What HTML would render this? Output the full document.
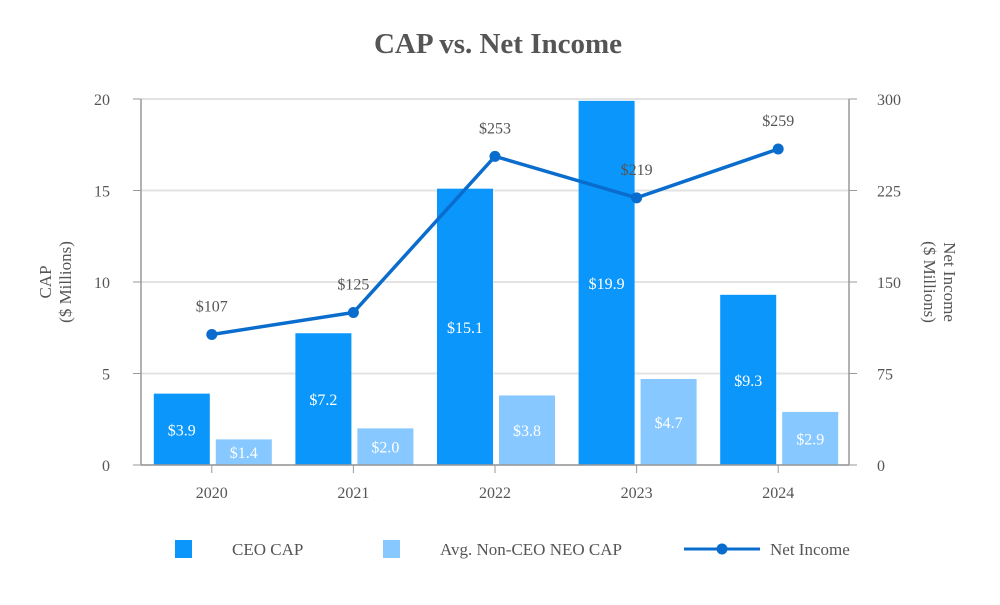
<!DOCTYPE html>
<html><head><meta charset="utf-8"><style>
body{margin:0;background:#fff}
svg text{font-family:"Liberation Serif",serif;fill:#555}
</style></head><body>
<svg width="1000" height="600" viewBox="0 0 1000 600">
<text x="498" y="53" text-anchor="middle" font-size="29" font-weight="bold">CAP vs. Net Income</text>
<g id="grid"></g><g id="bars"></g><g id="line"></g><g id="axes"></g>
<text transform="translate(57,282) rotate(-90)" text-anchor="middle" font-size="17"><tspan x="0" dy="-6">CAP</tspan><tspan x="0" dy="20">($ Millions)</tspan></text>
<text transform="translate(938,282) rotate(90)" text-anchor="middle" font-size="17"><tspan x="0" dy="-6">Net Income</tspan><tspan x="0" dy="20">($ Millions)</tspan></text>
<g>
<rect x="175" y="540" width="17" height="18" fill="#0a96fa"/>
<text x="232" y="555" font-size="17">CEO CAP</text>
<rect x="383" y="540" width="17" height="18" fill="#86c8ff"/>
<text x="440" y="555" font-size="17">Avg. Non-CEO NEO CAP</text>
<line x1="684" y1="549" x2="760" y2="549" stroke="#0a6ccc" stroke-width="3"/>
<circle cx="722" cy="549" r="5.5" fill="#0a6ccc"/>
<text x="770" y="555" font-size="17">Net Income</text>
</g>
</svg>
<script>
const categories=["2020","2021","2022","2023","2024"];
const ceoCap=[3.9,7.2,15.1,19.9,9.3];
const neoCap=[1.4,2.0,3.8,4.7,2.9];
const netIncome=[107,125,253,219,259];
const leftTicks=[0,5,10,15,20];
const rightTicks=[0,75,150,225,300];
const NS="http://www.w3.org/2000/svg";
const L=141,R=849,T=99,B=465;
const yL=v=>B-(v/20)*(B-T);
const yR=v=>B-(v/300)*(B-T);
const bw=(R-L)/categories.length;
const xc=i=>L+bw*(i+0.5);
function mk(tag,attrs,parent,text){const e=document.createElementNS(NS,tag);for(const k in attrs)e.setAttribute(k,attrs[k]);if(text!==undefined)e.textContent=text;document.getElementById(parent).appendChild(e);return e;}
leftTicks.forEach((t,i)=>{
 const g=mk("line",{x1:L,x2:R,y1:yL(t),y2:yL(t),stroke:"#e3e3e3","stroke-width":2},"grid");
 
 
 const tk=mk("line",{x1:L-8,x2:L,y1:yL(t),y2:yL(t),stroke:"#999"},"axes");
 
 
 const lt=mk("text",{x:L-31,y:yL(t)+6,"text-anchor":"end","font-size":16},"axes",String(t));
 
 
});
rightTicks.forEach(t=>{
 const tk=mk("line",{x1:R,x2:R+8,y1:yR(t),y2:yR(t),stroke:"#999"},"axes");
 
 
 const rt=mk("text",{x:R+28,y:yR(t)+6,"font-size":16},"axes",String(t));
 
 
});
[[L,T,L,B],[R,T,R,B],[L,B,R,B]].forEach(a=>{
 const ax=mk("line",{x1:a[0],y1:a[1],x2:a[2],y2:a[3],stroke:"#999","stroke-width":1.5},"axes");
 
 
});
categories.forEach((c,i)=>{
 const x=xc(i);
 const tk=mk("line",{x1:x,x2:x,y1:B,y2:B+8,stroke:"#999"},"axes");
 
 
 const xl=mk("text",{x:x,y:B+33,"text-anchor":"middle","font-size":16},"axes",c);
 
 
 const b1=mk("rect",{x:x-58,y:yL(ceoCap[i]),width:56,height:B-yL(ceoCap[i]),fill:"#0a96fa"},"bars");
 
 
 const t1=mk("text",{x:x-30,y:(yL(ceoCap[i])+B)/2+6,"text-anchor":"middle","font-size":16,style:"fill:#fff"},"bars","$"+ceoCap[i].toFixed(1));
 
 
 const b2=mk("rect",{x:x+4,y:yL(neoCap[i]),width:56,height:B-yL(neoCap[i]),fill:"#86c8ff"},"bars");
 
 
 const t2=mk("text",{x:x+32,y:(yL(neoCap[i])+B)/2+6,"text-anchor":"middle","font-size":16,style:"fill:#fff"},"bars","$"+neoCap[i].toFixed(1));
 
 
});
const pl=mk("polyline",{points:netIncome.map((v,i)=>xc(i)+","+yR(v)).join(" "),fill:"none",stroke:"#0a6ccc","stroke-width":3.5},"line");


netIncome.forEach((v,i)=>{
 const p=mk("circle",{cx:xc(i),cy:yR(v),r:5.5,fill:"#0a6ccc"},"line");
 
 
 const t=mk("text",{x:xc(i),y:yR(v)-23,"text-anchor":"middle","font-size":16},"line","$"+v);
 
 
});
</script>
</body></html>
